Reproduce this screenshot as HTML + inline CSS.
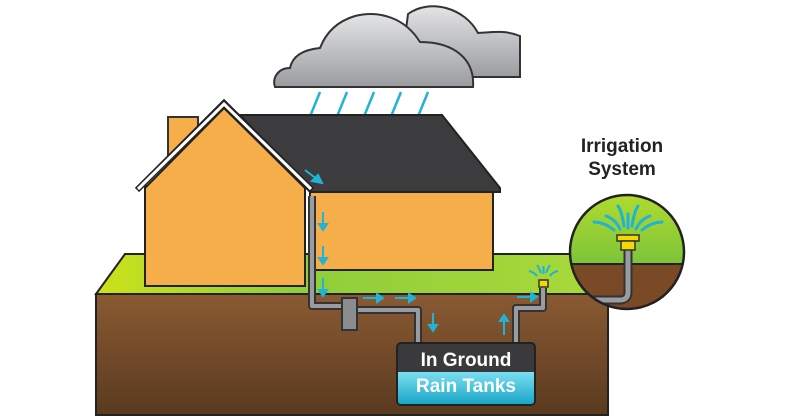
<!DOCTYPE html>
<html><head><style>body{margin:0;background:#fff}svg{display:block}</style></head><body>
<svg width="800" height="416" viewBox="0 0 800 416" xmlns="http://www.w3.org/2000/svg">
<defs>
<linearGradient id="cl" x1="0" y1="0" x2="0" y2="1"><stop offset="0" stop-color="#e4e4e6"/><stop offset="1" stop-color="#9a9ca0"/></linearGradient>
<linearGradient id="gr" x1="0" y1="0" x2="1" y2="0"><stop offset="0" stop-color="#cde21a"/><stop offset="0.4" stop-color="#8fce3a"/><stop offset="1" stop-color="#a9d93a"/></linearGradient>
<linearGradient id="br" x1="0" y1="0" x2="0" y2="1"><stop offset="0" stop-color="#8a5a33"/><stop offset="1" stop-color="#5a3a1f"/></linearGradient>
<linearGradient id="tk" x1="0" y1="0" x2="0" y2="1"><stop offset="0" stop-color="#7adff0"/><stop offset="1" stop-color="#1aa6c9"/></linearGradient>
<linearGradient id="cg" x1="0" y1="0" x2="0" y2="1"><stop offset="0" stop-color="#b5dc2c"/><stop offset="1" stop-color="#7cc43a"/></linearGradient>
</defs>
<!-- clouds -->
<path d="M400,77 L520,77 L520,36 C505,30 495,32 478,33 C465,8 430,-2 408,14 Z" fill="url(#cl)" stroke="#333" stroke-width="2"/>
<path d="M275,87 L473,87 C475,60 455,42 420,42 C405,18 380,10 355,16 C335,22 325,35 320,48 C300,50 292,58 290,68 C278,68 272,78 275,87 Z" fill="url(#cl)" stroke="#333" stroke-width="2"/>
<g stroke="#1fb3d6" stroke-width="2.5">
<line x1="320" y1="92" x2="300" y2="141"/><line x1="347" y1="92" x2="327" y2="141"/><line x1="374" y1="92" x2="354" y2="141"/><line x1="401" y1="92" x2="381" y2="141"/><line x1="428" y1="92" x2="408" y2="141"/>
</g>
<!-- ground -->
<polygon points="96,294 125,254 608,254 608,294" fill="url(#gr)" stroke="#222" stroke-width="2"/>
<rect x="96" y="294" width="512" height="121" fill="url(#br)" stroke="#222" stroke-width="2"/>
<!-- chimney -->
<rect x="168" y="117" width="30" height="45" fill="#f6ae4a" stroke="#333" stroke-width="2"/>
<!-- right wing -->
<rect x="310" y="190" width="183" height="80" fill="#f6ae4a" stroke="#222" stroke-width="2"/>
<polygon points="240,115 442,115 500,188 500,192 310,192" fill="#3c3c3e" stroke="#222" stroke-width="2"/>
<!-- gable -->
<rect x="145" y="186" width="160" height="100" fill="#f6ae4a" stroke="#222" stroke-width="2"/>
<polygon points="145,188 224,108 305,188 305,286 145,286" fill="#f6ae4a" stroke="#222" stroke-width="2"/>
<polyline points="137,190 224,103 312,190" fill="none" stroke="#222" stroke-width="6"/>
<polyline points="138,189 224,104 311,189" fill="none" stroke="#fff" stroke-width="3"/>
<!-- pipes -->
<g fill="none" stroke="#333" stroke-width="8" stroke-linejoin="round">
<path d="M312,196 L312,306 L345,306 M350,310 L418,310 L418,343 M516,343 L516,308 L543,308 L543,288"/>
<path d="M628,244 L628,298 L600,298"/>
</g>
<g fill="none" stroke="#9a9ca0" stroke-width="4" stroke-linejoin="round">
<path d="M312,196 L312,306 L345,306 M350,310 L418,310 L418,343 M516,343 L516,308 L543,308 L543,288"/>
</g>
<rect x="342" y="298" width="15" height="32" fill="#8a8c90" stroke="#333" stroke-width="2"/>
<!-- arrows -->
<g stroke="#1fb3d6" stroke-width="2" fill="#1fb3d6">
<line x1="305" y1="170" x2="318" y2="180"/><polygon points="322,183 312,181 318,175"/>
<line x1="323" y1="212" x2="323" y2="225"/><polygon points="319,224 327,224 323,230"/>
<line x1="323" y1="246" x2="323" y2="259"/><polygon points="319,258 327,258 323,264"/>
<line x1="323" y1="278" x2="323" y2="291"/><polygon points="319,290 327,290 323,296"/>
<line x1="363" y1="298" x2="378" y2="298"/><polygon points="377,294 377,302 383,298"/>
<line x1="395" y1="298" x2="410" y2="298"/><polygon points="409,294 409,302 415,298"/>
<line x1="433" y1="313" x2="433" y2="326"/><polygon points="429,325 437,325 433,331"/>
<line x1="504" y1="335" x2="504" y2="320"/><polygon points="500,321 508,321 504,315"/>
<line x1="517" y1="297" x2="532" y2="297"/><polygon points="531,293 531,301 537,297"/>
</g>
<!-- small sprinkler -->
<rect x="539" y="280" width="9" height="7" fill="#f5d800" stroke="#333" stroke-width="1.5"/>
<g stroke="#1fb3d6" stroke-width="2" fill="none"><path d="M537,276 q-3,-4 -8,-5"/><path d="M550,276 q3,-4 8,-5"/><path d="M541,273 q-2,-5 -4,-8"/><path d="M546,273 q2,-5 4,-8"/><line x1="543.5" y1="274" x2="543.5" y2="266"/></g>
<!-- tank -->
<rect x="397" y="343" width="138" height="62" rx="4" fill="#3a3a3c" stroke="#222" stroke-width="2"/>
<path d="M398,372 L534,372 L534,401 Q534,404 531,404 L401,404 Q398,404 398,401 Z" fill="url(#tk)"/>
<text x="466" y="366" text-anchor="middle" font-family="Liberation Sans, sans-serif" font-weight="bold" font-size="19" fill="#fff">In Ground</text>
<text x="466" y="392" text-anchor="middle" font-family="Liberation Sans, sans-serif" font-weight="bold" font-size="19" fill="#fff">Rain Tanks</text>
<!-- circle -->
<clipPath id="cc"><circle cx="627" cy="252" r="57"/></clipPath>
<g clip-path="url(#cc)">
<rect x="560" y="190" width="130" height="74" fill="url(#cg)"/>
<rect x="560" y="264" width="130" height="60" fill="#7a4a26"/>
<line x1="560" y1="264" x2="690" y2="264" stroke="#222" stroke-width="2"/>
<path d="M628,248 L628,292 Q628,300 620,300 L560,300" fill="none" stroke="#333" stroke-width="9"/>
<path d="M628,248 L628,292 Q628,300 620,300 L560,300" fill="none" stroke="#9a9ca0" stroke-width="5"/>
</g>
<circle cx="627" cy="252" r="57" fill="none" stroke="#222" stroke-width="2.5"/>
<rect x="617" y="235" width="22" height="6" fill="#f5d800" stroke="#333" stroke-width="1.5"/>
<rect x="621" y="241" width="14" height="9" fill="#f5d800" stroke="#333" stroke-width="1.5"/>
<g stroke="#1fb3d6" stroke-width="3" fill="none" stroke-linecap="round">
<path d="M620,229 q-5,-10 -14,-13"/><path d="M636,229 q5,-10 14,-13"/><path d="M624,226 q-2,-14 -6,-20"/><path d="M632,226 q2,-14 6,-20"/>
<path d="M614,230 q-10,-8 -20,-8"/><path d="M642,230 q10,-8 20,-8"/><line x1="628" y1="228" x2="628" y2="214"/>
</g>
<text x="622" y="152" text-anchor="middle" font-family="Liberation Sans, sans-serif" font-weight="bold" font-size="19" fill="#222">Irrigation</text>
<text x="622" y="175" text-anchor="middle" font-family="Liberation Sans, sans-serif" font-weight="bold" font-size="19" fill="#222">System</text>
</svg>
</body></html>
